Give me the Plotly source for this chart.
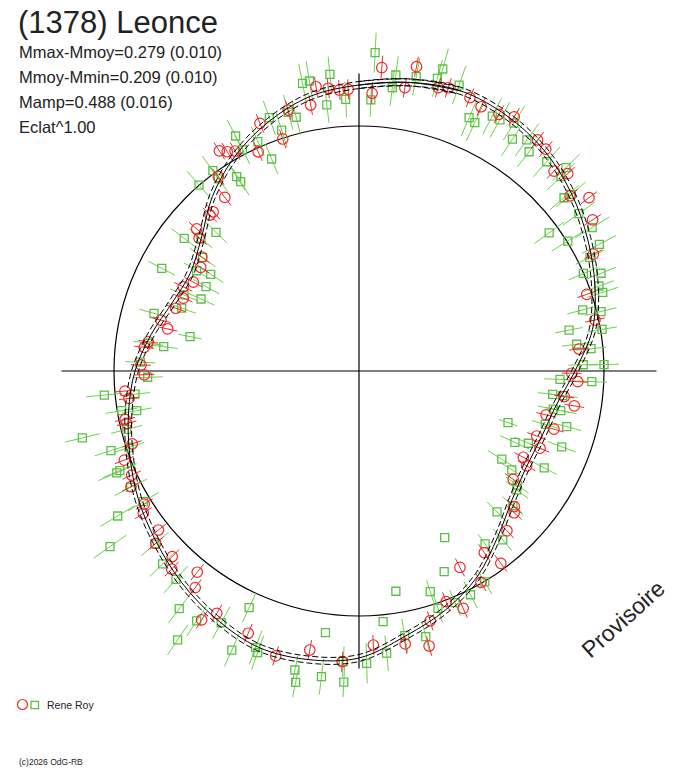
import numpy as np
import plotly.graph_objects as go

# ---- data (phase in degrees, clockwise from top; radius in plot units, mean circle = 245) ----
R_MEAN = 245
CROSS_R = 297.5

fit_phase_deg = list(range(0, 360, 10))
fit_r = [286, 293, 298, 295, 288, 277, 264, 251, 237, 216, 200, 194, 193, 200, 216, 237, 254, 269,
         287, 293, 294, 286, 276, 265, 255, 244, 234, 224, 211, 199, 195, 206, 228, 248, 265, 279]
fit_err = 3.5

green_phase = [2.9, 2.5, 7.1, 6.7, 11.0, 15.5, 15.0, 19.3, 23.5, 25.0, 27.6, 29.3, 32.0, 33.5, 36.0, 37.8,
               41.9, 45.5, 46.1, 50.2, 49.8, 54.4, 58.4, 54.0, 58.1, 62.2,
               63.8, 66.5, 68.0, 70.5, 72.1, 74.7, 76.2, 79.0, 80.3, 83.0, 84.5, 88.4, 88.5, 92.4, 92.6,
               96.9, 96.9, 101.1, 101.1, 109.1, 106.0, 105.0, 114.6, 113.1, 110.5, 121.7, 117.6, 122.9,
               125.8, 127.0,
               135.6, 131.2, 143.9, 139.6, 152.8, 157.0, 149.2, 153.5, 170.5, 162.1, 157.5, 161.6, 174.5,
               170.2, 165.9, 174.4, 178.5,
               182.8, 183.1, 187.3, 187.0, 191.5, 192.1, 199.8, 200.5, 204.9, 204.5, 208.7, 213.0, 214.0,
               217.1, 221.3, 225.5, 229.7, 234.8, 239.0, 238.8, 243.0, 247.2,
               306.0, 297.5, 301.7, 303.1, 298.9, 294.5, 293.5, 289.5, 285.7, 281.5, 277.1, 277.5, 272.3,
               268.3, 264.6, 264.1, 260.5, 259.9, 255.9, 256.4, 252.2, 251.6, 247.4,
               354.4, 357.2, 353.1, 350.3, 348.9, 346.1, 344.7, 340.5, 342.2, 337.6, 336.2, 332.3, 332.2,
               323.9, 323.8, 327.8, 328.0, 319.3, 314.1, 310.0, 307.2]
green_r = [318.7, 271.3, 298.3, 285.3, 299.8, 313.4, 303.0, 303.0, 276.2, 274.0, 287.7, 287.9, 292.3, 278.0,
           285.6, 277.5, 281.1, 290.1, 280.3, 276.0, 268.4, 270.4, 273.8, 235.0, 245.9, 271.7,
           257.5, 244.7, 261.0, 254.6, 256.1, 231.9, 249.2, 214.0, 246.6, 219.3, 233.1, 224.4, 245.1, 201.2,
           233.0, 195.1, 205.2, 198.0, 205.6, 157.7, 193.8, 215.0, 171.5, 184.1, 216.4, 167.8, 209.0, 182.0,
           195.1, 197.6,
           197.3, 204.6, 214.0, 221.8, 187.4, 218.0, 245.6, 250.0, 223.3, 231.9, 250.8, 250.1, 251.8, 268.6,
           273.9, 283.4, 292.4,
           311.4, 291.1, 263.8, 308.0, 317.7, 305.8, 299.3, 295.3, 260.9, 306.7, 287.0, 298.0, 324.4, 298.0,
           277.3, 275.3, 267.5, 304.7, 281.5, 252.2, 256.2, 262.8,
           193.3, 222.4, 190.8, 177.0, 174.7, 173.6, 190.8, 188.1, 213.0, 172.4, 196.8, 212.5, 218.9, 211.4,
           255.8, 225.2, 240.6, 225.8, 239.5, 284.6, 260.5, 242.3, 259.0,
           298.1, 272.0, 268.0, 294.2, 293.2, 261.4, 268.2, 268.7, 253.0, 229.3, 250.7, 265.4, 249.9, 248.0,
           238.0, 229.6, 223.2, 245.3, 199.2, 206.3, 219.4]
green_err = [20, 17, 19, 18, 19, 21, 19, 20, 20, 20, 20, 20, 20, 20, 20, 19, 20, 19, 19, 19, 19, 20, 20, 18,
             19, 19,
             16, 16, 16, 16, 16, 16, 16, 14, 15, 15, 15, 15, 15, 16, 15, 15, 15, 16, 16, 10, 14, 15, 16, 15,
             15, 16, 14, 14, 14, 14,
             14, 14, 12, 14, 0, 0, 14, 15, 0, 12, 14, 15, 0, 17, 16, 18, 20,
             15, 15, 0, 18, 15, 15, 18, 18, 16, 18, 18, 18, 18, 18, 18, 18, 18, 20, 20, 18, 18, 20,
             16, 15, 15, 15, 15, 15, 15, 15, 15, 12, 14, 15, 15, 15, 18, 15, 16, 15, 16, 18, 17, 16, 18,
             18, 18, 18, 20, 20, 18, 18, 18, 18, 16, 16, 18, 16, 18, 16, 16, 16, 18, 15, 15, 16]

red_phase = [4.3, 2.7, 9.2, 10.7, 15.6, 17.5, 22.1, 24.8, 28.6, 31.4, 37.7, 40.1, 44.3, 46.6, 50.3, 53.0, 57.1,
             63.5, 71.4, 77.8, 84.3, 90.6, 92.8, 97.1, 99.2, 103.2, 106.6, 110.1, 113.1, 117.7, 119.5, 125.1,
             131.1, 132.4, 137.2, 145.4, 143.6, 152.8, 150.0, 159.3, 156.3, 164.1, 165.7, 170.4, 177.0,
             183.3, 190.0, 196.3, 202.9, 210.4, 212.3, 218.8, 217.1, 225.2, 223.4, 231.6, 229.7, 236.6,
             238.2, 245.4,
             305.9, 303.2, 298.2, 295.6, 292.5, 288.9, 284.4, 282.4, 277.9, 276.3, 271.6, 269.0, 265.1,
             263.2, 258.3, 257.3, 252.2, 249.2, 243.1,
             357.8, 356.0, 353.8, 351.4, 349.7, 344.8, 341.8, 338.2, 335.3, 327.6, 329.0, 330.6, 324.1,
             322.3, 317.5, 316.3, 311.2, 309.7]
red_r = [304.2, 278.0, 287.0, 309.7, 294.2, 297.0, 295.0, 291.1, 292.4, 297.8, 292.0, 290.0, 279.3, 287.2,
         274.3, 288.0, 278.2,
         261.9, 240.3, 241.4, 221.1, 212.7, 219.0, 206.9, 218.1, 192.1, 203.4, 189.2, 196.8, 185.6, 192.7,
         188.5,
         206.2, 210.2, 217.7, 220.7, 239.0, 220.8, 244.0, 246.6, 259.2, 259.7, 283.8, 276.8, 274.4,
         291.2, 283.3, 296.9, 284.7, 281.0, 294.5, 258.2, 271.6, 263.3, 272.6, 256.0, 266.5, 258.4, 252.7,
         250.0,
         194.1, 189.2, 188.0, 194.9, 190.2, 193.7, 204.5, 195.9, 212.7, 216.0, 218.1, 214.7, 234.9, 231.6,
         238.9, 238.1, 238.2, 251.0, 255.7,
         281.9, 281.7, 284.4, 287.5, 270.3, 270.4, 244.2, 266.7, 241.3, 260.6, 255.8, 252.5, 239.9, 219.4,
         215.9, 215.7, 215.7, 207.9]
red_err = [12, 11] + [10] * (len(red_r) - 2)

title = "(1378) Leonce"
stats = ["Mmax-Mmoy=0.279 (0.010)", "Mmoy-Mmin=0.209 (0.010)", "Mamp=0.488 (0.016)", "Eclat^1.00"]
observer = "Rene Roy"
credit = "(c)2026 OdG-RB"
watermark = "Provisoire"

# ---- geometry helpers ----
W, H = 688, 768
CX, CY = 359, 371  # pixel centre of the diagram


def px(x):
    return x / W


def py(y):
    return 1 - y / H


def xy(theta_deg, r):
    t = np.radians(np.asarray(theta_deg, dtype=float))
    r = np.asarray(r, dtype=float)
    return r * np.sin(t), r * np.cos(t)


def radial_bars(theta_deg, r, e):
    xs, ys = [], []
    for t, rr, ee in zip(theta_deg, r, e):
        if ee <= 0:
            continue
        x0, y0 = xy(t, rr - ee)
        x1, y1 = xy(t, rr + ee)
        xs += [float(x0), float(x1), None]
        ys += [float(y0), float(y1), None]
    return xs, ys


fig = go.Figure()

RED = "#ee2a2a"
GREEN = "#5cbf45"
GREEN_BAR = "#6fcf4f"

gx, gy = radial_bars(green_phase, green_r, green_err)
fig.add_trace(go.Scatter(x=gx, y=gy, mode="lines", line=dict(color=GREEN_BAR, width=1), hoverinfo="skip"))
mx, my = xy(green_phase, green_r)
fig.add_trace(go.Scatter(x=mx, y=my, mode="markers",
                         marker=dict(symbol="square-open", size=8, color=GREEN, line=dict(width=1.3))))

rx, ry = radial_bars(red_phase, red_r, red_err)
fig.add_trace(go.Scatter(x=rx, y=ry, mode="lines", line=dict(color=RED, width=1), hoverinfo="skip"))
mx, my = xy(red_phase, red_r)
fig.add_trace(go.Scatter(x=mx, y=my, mode="markers",
                         marker=dict(symbol="circle-open", size=10.5, color=RED, line=dict(width=1.2))))

ph = fit_phase_deg + fit_phase_deg[:3]
fr = np.array(fit_r + fit_r[:3], dtype=float)
for off, dash in [(0, "solid"), (fit_err, "6px,3px"), (-fit_err, "6px,3px")]:
    cx, cy = xy(ph, fr + off)
    fig.add_trace(go.Scatter(x=cx, y=cy, mode="lines",
                             line=dict(color="black", width=1, shape="spline", smoothing=1.0, dash=dash),
                             hoverinfo="skip"))

shapes = [
    dict(type="circle", xref="x", yref="y", x0=-R_MEAN, y0=-R_MEAN, x1=R_MEAN, y1=R_MEAN,
         line=dict(color="black", width=1.2), layer="below"),
    dict(type="line", xref="x", yref="y", x0=-CROSS_R, y0=0, x1=CROSS_R, y1=0,
         line=dict(color="black", width=1.2), layer="below"),
    dict(type="line", xref="x", yref="y", x0=0, y0=-CROSS_R, x1=0, y1=CROSS_R,
         line=dict(color="black", width=1.2), layer="below"),
    dict(type="circle", xref="paper", yref="paper", x0=px(17.5), x1=px(27.5),
         y0=py(709.5), y1=py(699.5), line=dict(color=RED, width=1.2)),
    dict(type="rect", xref="paper", yref="paper", x0=px(31), x1=px(38.5),
         y0=py(708.7), y1=py(701.3), line=dict(color=GREEN, width=1.3)),
]

FONT = "Liberation Sans, Arial, sans-serif"
ann = [dict(text=title, x=px(17), y=py(23), font=dict(size=31, color="#222222", family=FONT))]
for i, s in enumerate(stats):
    ann.append(dict(text=s, x=px(18), y=py(52 + 25 * i), font=dict(size=16.5, color="#222222", family=FONT)))
ann.append(dict(text=observer, x=px(46), y=py(705), font=dict(size=10.5, color="#222222", family=FONT)))
ann.append(dict(text=credit, x=px(18), y=py(762), font=dict(size=8.5, color="#222222", family=FONT)))
for a in ann:
    a.update(xref="paper", yref="paper", xanchor="left", yanchor="middle", showarrow=False, borderpad=0)
ann.append(dict(text=watermark, x=px(623), y=py(619), xref="paper", yref="paper", showarrow=False,
                xanchor="center", yanchor="middle",
                textangle=-42, font=dict(size=23, color="#222222", family=FONT)))

fig.update_layout(
    width=W, height=H, margin=dict(l=0, r=0, t=0, b=0),
    paper_bgcolor="white", plot_bgcolor="white", showlegend=False,
    xaxis=dict(range=[-CX, W - CX], visible=False, fixedrange=True),
    yaxis=dict(range=[-(H - CY), CY], visible=False, fixedrange=True),
    shapes=shapes, annotations=ann,
)

# the page body would otherwise add an 8 px margin around the 688x768 figure
fig.write_html("out.html", config={"displayModeBar": False},
               post_script="document.body.style.margin='0px';")
